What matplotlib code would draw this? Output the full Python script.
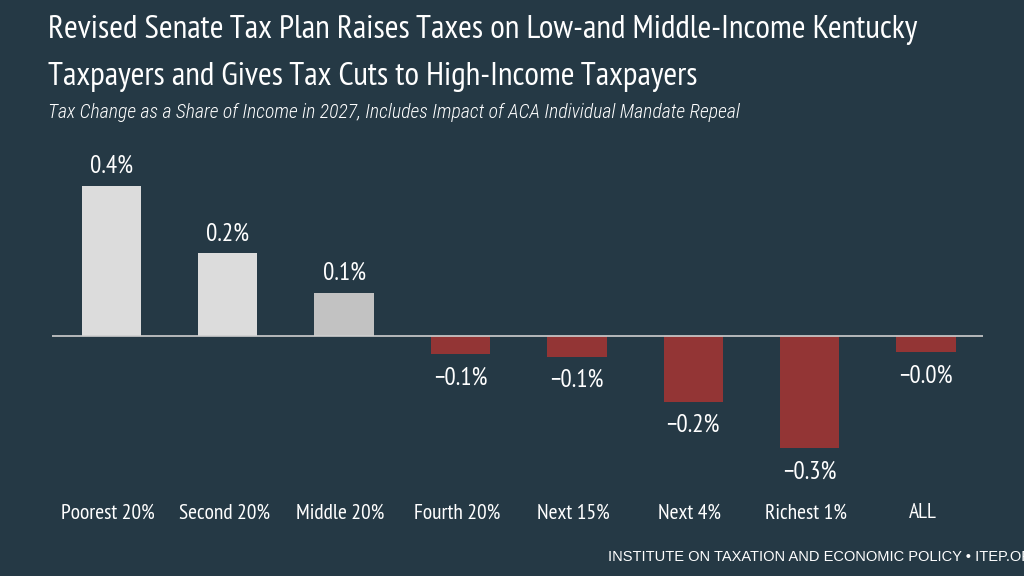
import matplotlib.pyplot as plt
import numpy as np

categories = ["Poorest 20%", "Second 20%", "Middle 20%", "Fourth 20%",
              "Next 15%", "Next 4%", "Richest 1%", "ALL"]
tax_change = [0.40, 0.221, 0.115, -0.049, -0.055, -0.176, -0.299, -0.043]
value_labels = ["0.4%", "0.2%", "0.1%", "\u22120.1%", "\u22120.1%",
                "\u22120.2%", "\u22120.3%", "\u22120.0%"]

bg = "#253945"
narrow = ["PT Sans Narrow", "DejaVu Sans"]
cond = ["Roboto Condensed", "DejaVu Sans"]

fig = plt.figure(figsize=(10.24, 5.76), dpi=100, facecolor=bg)
ax = fig.add_axes([52 / 1024, 1 - 470 / 576, 931 / 1024, 300 / 576])
ax.set_facecolor(bg)

x = np.arange(len(categories))
colors = []
for i, v in enumerate(tax_change):
    if v < 0:
        colors.append("#933535")
    elif i == 2:
        colors.append("#c2c2c2")
    else:
        colors.append("#dcdcdc")

ax.bar(x, tax_change, width=0.51, color=colors, zorder=2)
ax.axhline(0, color="#cfcfcf", linewidth=1.2, zorder=3)

for xi, v, lab in zip(x, tax_change, value_labels):
    off = 14 if v >= 0 else -17
    ax.annotate(lab, (xi, v), xytext=(0, off), textcoords="offset points",
                ha="center", va="center", color="white", fontsize=18,
                family=narrow)

ax.set_xlim(-0.51, 7.49)
ax.set_ylim(-(470 - 336) / 375, (336 - 170) / 375)
ax.axis("off")

# category names sit well below the axes
for xi, c in zip(x, categories):
    ax.text(xi - 0.03, -(513 - 336) / 375, c, ha="center", va="center",
            color="white", fontsize=15.5, family=narrow)

fig.text(48 / 1024, 1 - 30 / 576,
         "Revised Senate Tax Plan Raises Taxes on Low-and Middle-Income Kentucky",
         color="white", fontsize=24, family=narrow, va="center", ha="left")
fig.text(48 / 1024, 1 - 77 / 576,
         "Taxpayers and Gives Tax Cuts to High-Income Taxpayers",
         color="white", fontsize=24, family=narrow, va="center", ha="left")
fig.text(48 / 1024, 1 - 113 / 576,
         "Tax Change as a Share of Income in 2027, Includes Impact of ACA Individual Mandate Repeal",
         color="white", fontsize=14.2, family=cond, style="italic",
         weight="light", va="center", ha="left")
fig.text(608 / 1024, 1 - 557 / 576,
         "INSTITUTE ON TAXATION AND ECONOMIC POLICY \u2022 ITEP.ORG",
         color="white", fontsize=10.5, family=["Liberation Sans", "DejaVu Sans"],
         va="center", ha="left")

fig.savefig("out.png", dpi=100, facecolor=bg)
